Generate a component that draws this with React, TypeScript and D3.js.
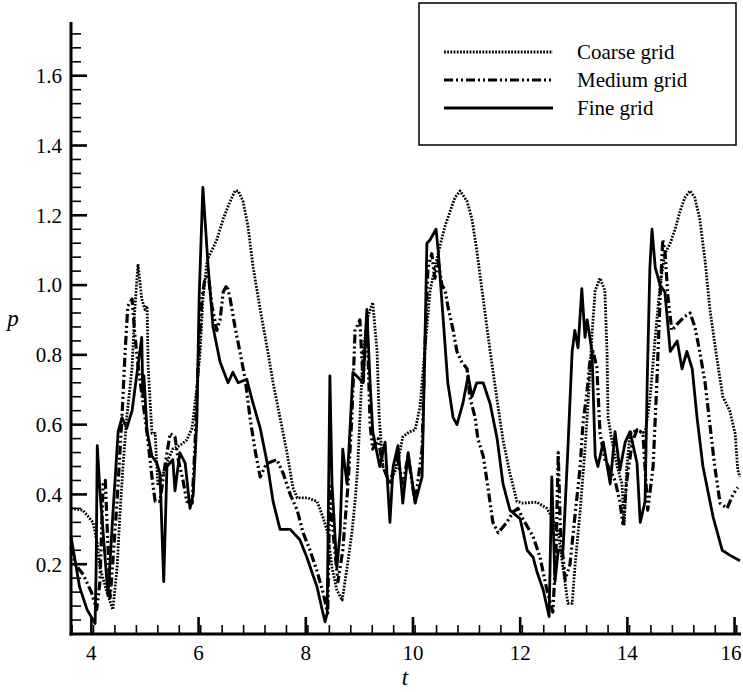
import React from 'react'
import * as d3 from 'd3'

// p(t), [t, p]
const coarseGrid: [number, number][] = [
  [3.62,0.36],[3.84,0.355],[4.03,0.32],[4.11,0.26],[4.16,0.19],[4.29,0.12],[4.40,0.07],[4.48,0.19],
  [4.53,0.335],[4.59,0.48],[4.66,0.62],[4.76,0.765],[4.81,0.93],[4.87,1.06],[4.94,0.96],[5.00,0.93],
  [5.04,0.94],[5.06,0.765],[5.13,0.575],[5.19,0.575],[5.24,0.43],[5.34,0.46],[5.43,0.50],[5.52,0.53],
  [5.65,0.54],[5.78,0.556],[5.88,0.59],[5.97,0.71],[6.03,0.81],[6.08,0.96],[6.16,1.07],[6.25,1.10],
  [6.34,1.13],[6.46,1.19],[6.59,1.24],[6.68,1.27],[6.74,1.27],[6.83,1.24],[6.92,1.17],[7.02,1.05],
  [7.15,0.93],[7.28,0.82],[7.39,0.72],[7.52,0.62],[7.65,0.52],[7.76,0.42],[7.84,0.39],[8.04,0.39],
  [8.21,0.38],[8.32,0.335],[8.41,0.29],[8.49,0.19],[8.58,0.126],[8.68,0.097],[8.77,0.19],[8.86,0.29],
  [8.92,0.38],[8.97,0.48],[9.01,0.62],[9.07,0.81],[9.16,0.91],[9.25,0.95],[9.33,0.81],[9.37,0.62],
  [9.44,0.48],[9.57,0.43],[9.70,0.48],[9.81,0.565],[9.94,0.58],[10.04,0.585],[10.13,0.65],[10.22,0.81],
  [10.32,0.985],[10.41,1.05],[10.50,1.11],[10.60,1.17],[10.69,1.21],[10.78,1.25],[10.88,1.27],[11.01,1.24],
  [11.10,1.19],[11.19,1.10],[11.31,0.96],[11.44,0.81],[11.57,0.67],[11.68,0.556],[11.81,0.46],[11.94,0.38],
  [12.05,0.375],[12.31,0.378],[12.50,0.36],[12.59,0.335],[12.71,0.29],[12.80,0.19],[12.89,0.088],[12.97,0.088],
  [13.02,0.19],[13.12,0.355],[13.21,0.53],[13.27,0.67],[13.34,0.86],[13.40,0.985],[13.49,1.02],[13.58,0.985],
  [13.62,0.81],[13.64,0.62],[13.71,0.556],[13.81,0.48],[13.90,0.43],[13.94,0.31],[13.99,0.48],[14.05,0.575],
  [14.18,0.585],[14.33,0.575],[14.42,0.67],[14.52,0.85],[14.61,1.0],[14.70,1.09],[14.80,1.12],[14.89,1.16],
  [14.98,1.21],[15.07,1.25],[15.17,1.27],[15.26,1.25],[15.35,1.19],[15.45,1.07],[15.54,0.93],[15.67,0.79],
  [15.78,0.68],[15.91,0.64],[16.01,0.575],[16.06,0.47],[16.10,0.45],
]

const mediumGrid: [number, number][] = [
  [3.62,0.25],[3.70,0.20],[3.85,0.17],[4.00,0.12],[4.10,0.07],[4.16,0.15],[4.22,0.43],[4.26,0.44],
  [4.35,0.10],[4.48,0.38],[4.57,0.62],[4.63,0.81],[4.68,0.94],[4.76,0.96],[4.81,0.86],[4.87,0.77],
  [4.94,0.69],[5.04,0.575],[5.13,0.45],[5.19,0.38],[5.28,0.38],[5.37,0.48],[5.47,0.575],[5.56,0.565],
  [5.62,0.50],[5.71,0.44],[5.78,0.38],[5.88,0.375],[5.93,0.53],[5.99,0.765],[6.06,0.96],[6.12,1.02],
  [6.18,1.03],[6.25,0.94],[6.34,0.87],[6.40,0.90],[6.46,0.98],[6.53,1.00],[6.59,0.96],[6.68,0.88],
  [6.77,0.81],[6.87,0.73],[6.96,0.62],[7.05,0.53],[7.15,0.45],[7.24,0.48],[7.30,0.49],[7.46,0.50],
  [7.58,0.46],[7.71,0.40],[7.84,0.355],[7.95,0.29],[8.08,0.24],[8.21,0.18],[8.32,0.12],[8.41,0.06],
  [8.45,0.43],[8.51,0.29],[8.60,0.15],[8.69,0.24],[8.79,0.43],[8.86,0.62],[8.92,0.87],[9.01,0.90],
  [9.07,0.72],[9.14,0.91],[9.20,0.60],[9.25,0.53],[9.35,0.56],[9.44,0.48],[9.57,0.43],[9.70,0.51],
  [9.81,0.43],[9.91,0.51],[10.04,0.375],[10.17,0.53],[10.22,0.81],[10.28,1.05],[10.35,1.09],[10.41,1.02],
  [10.47,1.07],[10.54,1.00],[10.60,0.985],[10.65,0.94],[10.75,0.87],[10.82,0.81],[10.91,0.78],[11.01,0.76],
  [11.06,0.68],[11.16,0.62],[11.21,0.56],[11.31,0.51],[11.38,0.44],[11.44,0.375],[11.49,0.32],[11.59,0.29],
  [11.75,0.32],[11.87,0.35],[11.96,0.36],[12.05,0.33],[12.24,0.28],[12.37,0.22],[12.50,0.126],[12.61,0.063],
  [12.67,0.24],[12.71,0.52],[12.75,0.30],[12.84,0.155],[12.93,0.20],[13.02,0.335],[13.12,0.48],[13.17,0.60],
  [13.25,0.70],[13.30,0.78],[13.36,0.81],[13.43,0.765],[13.49,0.575],[13.58,0.50],[13.68,0.47],[13.77,0.44],
  [13.86,0.38],[13.92,0.31],[13.99,0.44],[14.09,0.55],[14.18,0.585],[14.29,0.575],[14.38,0.355],[14.48,0.48],
  [14.55,0.72],[14.61,0.96],[14.66,1.13],[14.70,1.10],[14.76,0.96],[14.83,0.87],[14.94,0.89],[15.07,0.91],
  [15.17,0.92],[15.26,0.88],[15.35,0.81],[15.45,0.72],[15.54,0.60],[15.63,0.48],[15.73,0.375],[15.86,0.36],
  [15.97,0.40],[16.06,0.42],
]

const fineGrid: [number, number][] = [
  [3.62,0.28],[3.78,0.135],[3.92,0.07],[4.07,0.03],[4.09,0.20],[4.11,0.54],[4.16,0.41],[4.22,0.29],
  [4.31,0.11],[4.40,0.34],[4.50,0.58],[4.57,0.62],[4.66,0.59],[4.76,0.64],[4.87,0.77],[4.94,0.85],
  [4.96,0.68],[4.98,0.74],[5.04,0.58],[5.13,0.51],[5.22,0.49],[5.28,0.46],[5.35,0.15],[5.41,0.48],
  [5.52,0.50],[5.56,0.41],[5.65,0.52],[5.75,0.49],[5.84,0.36],[5.90,0.40],[5.97,0.62],[6.01,0.96],
  [6.08,1.28],[6.18,1.05],[6.27,0.88],[6.40,0.78],[6.55,0.72],[6.64,0.75],[6.74,0.72],[6.90,0.73],
  [7.00,0.67],[7.15,0.59],[7.28,0.49],[7.39,0.38],[7.52,0.30],[7.71,0.30],[7.89,0.27],[8.02,0.22],
  [8.21,0.135],[8.32,0.06],[8.36,0.035],[8.40,0.06],[8.45,0.74],[8.49,0.43],[8.58,0.19],[8.64,0.29],
  [8.69,0.53],[8.77,0.43],[8.83,0.60],[8.88,0.75],[9.01,0.73],[9.07,0.72],[9.14,0.93],[9.20,0.72],
  [9.25,0.58],[9.38,0.48],[9.48,0.55],[9.57,0.32],[9.63,0.48],[9.72,0.54],[9.81,0.375],[9.91,0.52],
  [10.04,0.375],[10.17,0.45],[10.22,0.81],[10.26,1.12],[10.32,1.13],[10.43,1.16],[10.47,1.10],[10.56,0.91],
  [10.65,0.72],[10.75,0.62],[10.82,0.60],[10.93,0.66],[11.03,0.74],[11.10,0.68],[11.19,0.72],[11.31,0.72],
  [11.44,0.66],[11.57,0.56],[11.68,0.43],[11.81,0.355],[12.00,0.33],[12.13,0.24],[12.24,0.22],[12.31,0.18],
  [12.43,0.126],[12.54,0.05],[12.59,0.45],[12.65,0.15],[12.71,0.24],[12.80,0.24],[12.89,0.53],[12.97,0.81],
  [13.02,0.87],[13.08,0.82],[13.15,0.99],[13.21,0.85],[13.25,0.90],[13.34,0.81],[13.40,0.51],[13.45,0.48],
  [13.55,0.55],[13.68,0.43],[13.77,0.58],[13.86,0.47],[13.96,0.55],[14.05,0.58],[14.18,0.49],[14.24,0.32],
  [14.33,0.38],[14.37,0.72],[14.42,1.05],[14.46,1.16],[14.52,1.05],[14.61,1.00],[14.70,0.98],[14.80,0.81],
  [14.93,0.84],[15.02,0.76],[15.11,0.81],[15.21,0.76],[15.30,0.62],[15.41,0.48],[15.60,0.335],[15.77,0.24],
  [15.91,0.226],[16.10,0.21],
]

const xTicks = [4, 6, 8, 10, 12, 14, 16]
const yTicks = [0.2, 0.4, 0.6, 0.8, 1.0, 1.2, 1.4, 1.6]
const legendNames = ['Coarse grid', 'Medium grid', 'Fine grid']

const W = 743
const H = 692

function Label({ x, y, size, anchor = 'start', italic = false, dy, children }: any) {
  return (
    <text x={x} y={y} dy={dy} textAnchor={anchor} fontFamily="Liberation Serif"
      style={{ fontFamily: "'Liberation Serif'", fontSize: size + 'px', fontStyle: italic ? 'italic' : 'normal' }}>
      {children}
    </text>
  )
}

export default function App() {
  const x = d3.scaleLinear().domain([3.62, 16.12]).range([71, 741])
  const y = d3.scaleLinear().domain([0, 1.754]).range([634, 22])

  const line = d3.line<[number, number]>()
    .x(d => x(d[0]))
    .y(d => y(d[1]))

  const xMinor = d3.range(3.64, 16.12, 0.4).map(v => +v.toFixed(2))
    .filter(v => v >= 3.62 && !xTicks.some(t => Math.abs(t - v) < 0.01))
  const yMinor = d3.range(0.04, 1.75, 0.04).map(v => +v.toFixed(2))
    .filter(v => !yTicks.some(t => Math.abs(t - v) < 0.005))

  const styles = [
    { width: 2.8, dash: '1.8,1.4' },
    { width: 3.2, dash: '9,3,2,3,2,3' },
    { width: 2.8, dash: null },
  ]

  const x0 = x.range()[0]
  const yb = y.range()[0]

  return (
    <svg width={W} height={H} style={{ position: 'absolute', left: 0, top: 0 }}>
      <rect width={W} height={H} fill="#fff" />

      {/* series */}
      {[coarseGrid, mediumGrid, fineGrid].map((s, i) => (
        <path key={i} d={line(s) || ''} fill="none" stroke="#000"
          strokeWidth={styles[i].width}
          strokeDasharray={styles[i].dash || undefined}
          strokeLinejoin="round" />
      ))}

      {/* y axis */}
      <line x1={x0} x2={x0} y1={y.range()[1]} y2={yb + 1.5} stroke="#000" strokeWidth={3} />
      {yMinor.map(v => (
        <line key={'ym' + v} x1={x0} x2={x0 + 10} y1={y(v)} y2={y(v)} stroke="#000" strokeWidth={1.6} />
      ))}
      {yTicks.map(v => (
        <g key={'y' + v}>
          <line x1={x0} x2={x0 + 16} y1={y(v)} y2={y(v)} stroke="#000" strokeWidth={2.6} />
          <Label x={x0 - 9} y={y(v)} dy="0.35em" anchor="end" size={21}>{v.toFixed(1)}</Label>
        </g>
      ))}

      {/* x axis */}
      <line x1={x0 - 1.5} x2={x.range()[1]} y1={yb} y2={yb} stroke="#000" strokeWidth={3} />
      {xMinor.map(v => (
        <line key={'xm' + v} x1={x(v)} x2={x(v)} y1={yb} y2={yb - 9} stroke="#000" strokeWidth={1.6} />
      ))}
      {xTicks.map(v => (
        <g key={'x' + v}>
          <line x1={x(v)} x2={x(v)} y1={yb} y2={yb - 17} stroke="#000" strokeWidth={2.6} />
          {/* keep the last label inside the page */}
          <Label x={Math.min(x(v), W - 12)} y={yb + 26} anchor="middle" size={21}>{v}</Label>
        </g>
      ))}

      {/* axis titles */}
      <Label x={13} y={326} anchor="middle" size={23} italic>p</Label>
      <Label x={405} y={685} anchor="middle" size={23} italic>t</Label>

      {/* legend */}
      <rect x={419} y={3} width={317} height={142} fill="#fff" stroke="#000" strokeWidth={1.5} />
      {legendNames.map((n, i) => {
        const ly = 52 + i * 28
        return (
          <g key={n}>
            <line x1={444} x2={553} y1={ly} y2={ly} stroke="#000"
              strokeWidth={styles[i].width}
              strokeDasharray={styles[i].dash || undefined} />
            <Label x={577} y={ly} dy="0.35em" size={21}>{n}</Label>
          </g>
        )
      })}
    </svg>
  )
}
